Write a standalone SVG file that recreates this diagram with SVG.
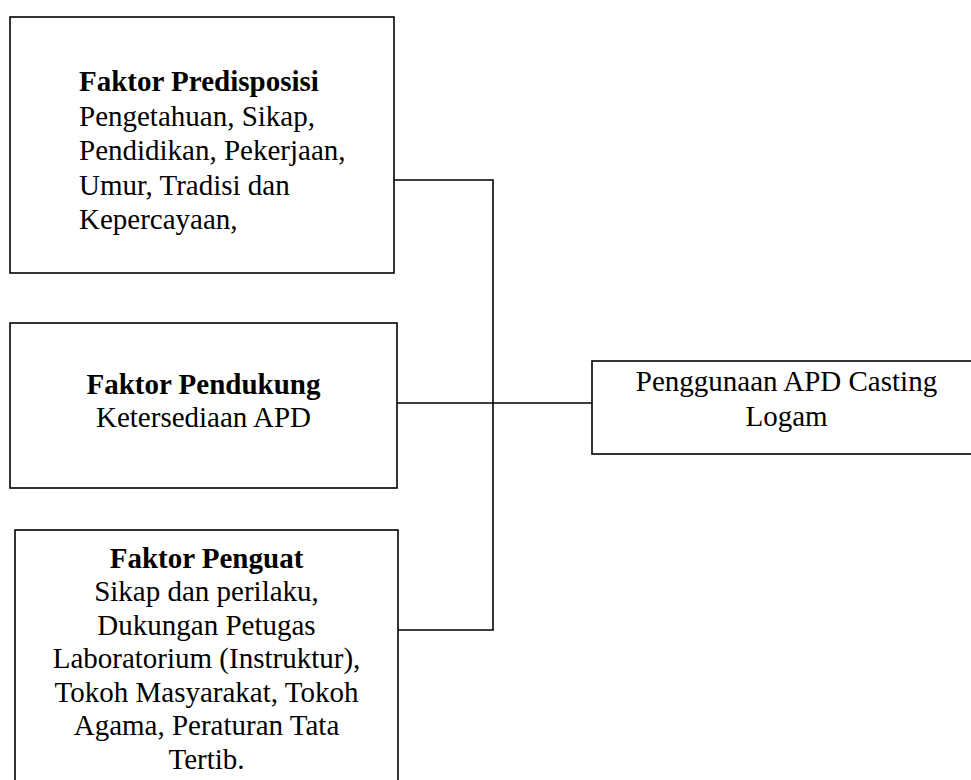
<svg xmlns="http://www.w3.org/2000/svg" width="971" height="780" viewBox="0 0 971 780">
<style>
.box{fill:#fff;stroke:#000;stroke-width:1.6}
.ln{fill:none;stroke:#000;stroke-width:1.6}
.t{font-family:'Liberation Serif','Times New Roman',Times,'DejaVu Serif',serif;font-size:29px;fill:#000}
.b{font-weight:bold}
.c{text-anchor:middle}
</style>
<rect width="971" height="780" fill="#fff"/>
<g id="connectors">
<polyline class="ln" points="394,180 493,180 493,630 398,630"/>
<line class="ln" x1="397" y1="403" x2="592" y2="403"/>
</g>
<g id="predisposisi" class="t">
<rect class="box" x="10" y="17" width="384" height="256"/>
<text class="b" x="79" y="91">Faktor Predisposisi</text>
<text x="79" y="125.5">Pengetahuan, Sikap,</text>
<text x="79" y="160">Pendidikan, Pekerjaan,</text>
<text x="79" y="194.5">Umur, Tradisi dan</text>
<text x="79" y="229">Kepercayaan,</text>
</g>
<g id="pendukung" class="t">
<rect class="box" x="10" y="323" width="387" height="165"/>
<text class="b c" x="203.5" y="394">Faktor Pendukung</text>
<text class="c" x="203.5" y="427">Ketersediaan APD</text>
</g>
<g id="penguat" class="t">
<rect class="box" x="15" y="530" width="383" height="270"/>
<text class="b c" x="206.5" y="567.5">Faktor Penguat</text>
<text class="c" x="206.5" y="601">Sikap dan perilaku,</text>
<text class="c" x="206.5" y="634.5">Dukungan Petugas</text>
<text class="c" x="206.5" y="668">Laboratorium (Instruktur),</text>
<text class="c" x="206.5" y="701.5">Tokoh Masyarakat, Tokoh</text>
<text class="c" x="206.5" y="735">Agama, Peraturan Tata</text>
<text class="c" x="206.5" y="768.5">Tertib.</text>
</g>
<g id="penggunaan" class="t">
<rect class="box" x="592" y="361" width="389" height="93"/>
<text class="c" x="786.5" y="391">Penggunaan APD Casting</text>
<text class="c" x="786.5" y="426">Logam</text>
</g>
</svg>
